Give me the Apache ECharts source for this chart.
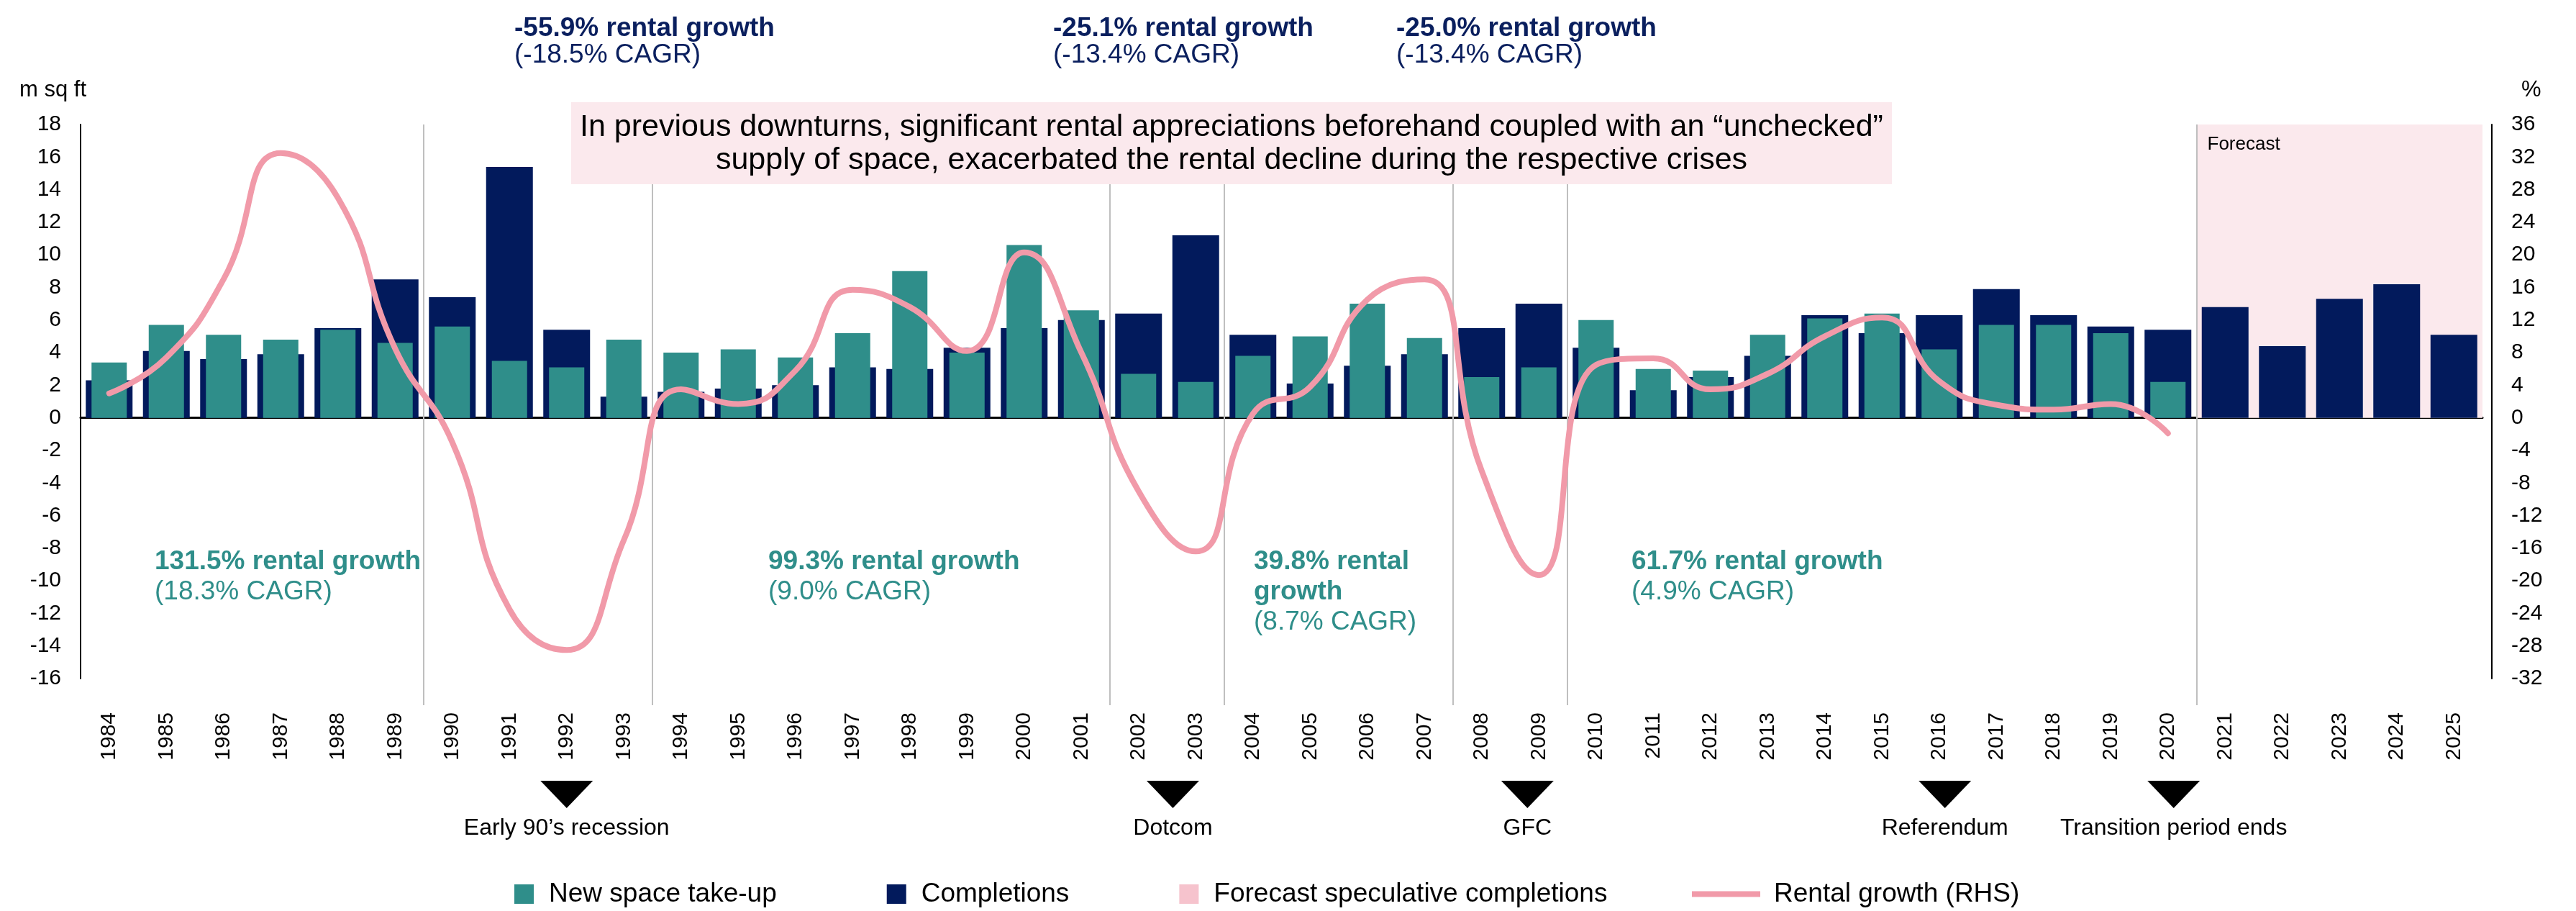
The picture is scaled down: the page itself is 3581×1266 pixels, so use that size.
<!DOCTYPE html>
<html>
<head>
<meta charset="utf-8">
<title>Take-up, completions and rental growth</title>
<script src="https://cdn.jsdelivr.net/npm/echarts@6/dist/echarts.min.js"></script>
<style>
  html, body { margin: 0; padding: 0; background: #fff; }
  #chart { width: 3581px; height: 1266px; }
</style>
</head>
<body>
<div id="chart"></div>
<script>
  // categories
  const years = ['1984','1985','1986','1987','1988','1989','1990','1991','1992','1993',
    '1994','1995','1996','1997','1998','1999','2000','2001','2002','2003',
    '2004','2005','2006','2007','2008','2009','2010','2011','2012','2013',
    '2014','2015','2016','2017','2018','2019','2020','2021','2022','2023',
    '2024','2025'];

  // m sq ft
  const takeUp = [3.4, 5.7, 5.1, 4.8, 5.4, 4.6, 5.6, 3.5, 3.1, 4.8,
    4.0, 4.2, 3.7, 5.2, 9.0, 4.0, 10.6, 6.6, 2.7, 2.2,
    3.8, 5.0, 7.0, 4.9, 2.5, 3.1, 6.0, 3.0, 2.9, 5.1,
    6.1, 6.4, 4.2, 5.7, 5.7, 5.2, 2.2, null, null, null,
    null, null];
  const completions = [2.3, 4.1, 3.6, 3.9, 5.5, 8.5, 7.4, 15.4, 5.4, 1.3,
    1.6, 1.8, 2.0, 3.1, 3.0, 4.3, 5.5, 6.0, 6.4, 11.2,
    5.1, 2.1, 3.2, 3.9, 5.5, 7.0, 4.3, 1.7, 2.5, 3.8,
    6.3, 5.2, 6.3, 7.9, 6.3, 5.6, 5.4, 6.8, 4.4, 7.3,
    8.2, 5.1];
  const speculative = [];

  // % (RHS)
  const rentalGrowth = [3.0, 7.4, 17.0, 32.5, 27.0, 8.5, -3.0, -23.5, -28.5, -15.0,
    3.5, 1.7, 5.8, 15.7, 13.6, 8.2, 20.3, 8.0, -9.0, -16.4,
    0.5, 3.8, 14.5, 17.0, -6.5, -19.3, 6.5, 7.3, 3.5, 5.4,
    10.0, 12.3, 4.5, 1.6, 1.0, 1.7, -1.9, null, null, null,
    null, null];

  // ticks
  const leftMin = -16, leftMax = 18, leftStep = 2;
  const rightMin = -32, rightMax = 36, rightStep = 4;

  // period dividers (first year after each line) and forecast start
  const dividerYears = ['1990', '1994', '2002', '2004', '2008', '2010', '2021'];
  const forecastStart = '2021';

  // crisis markers
  const eventNames = ['Early 90’s recession', 'Dotcom', 'GFC', 'Referendum', 'Transition period ends'];
  const eventYears = [1992, 2002.6, 2008.8, 2016.1, 2020.1];

  const FONT = '"Liberation Sans", Arial, sans-serif';
  const TEAL = '#2f8e8a';
  const NAVY = '#021a5c';
  const PINK = '#f19aa9';
  const PINK_AREA = '#fbe9ed';
  const PINK_LEGEND = '#f6c3cd';

  const nYears = years.length;
  const idx = y => years.indexOf(y);

  const chart = echarts.init(document.getElementById('chart'));
  chart.setOption({
    animation: false,
    backgroundColor: '#fff',
    textStyle: { fontFamily: FONT },
    grid: [
      { left: 112, top: 173, width: 3339, height: 770 },   // 主图
      { left: 112, top: 173, width: 3339, height: 807 },   // 分隔线
      { left: 112, top: 1085, width: 3339, height: 38 }    // 事件
    ],
    legend: [
      {
        data: [
          { name: 'New space take-up', icon: 'rect' },
          { name: 'Completions', icon: 'rect' },
          { name: 'Forecast speculative completions', icon: 'rect' }
        ],
        left: 715, top: 1224,
        itemWidth: 27, itemHeight: 27, itemGap: 153,
        padding: 0,
        selectedMode: false,
        textStyle: { fontSize: 37, color: '#000', fontFamily: FONT, padding: [0, 0, 0, 16] }
      },
      {
        data: [{ name: 'Rental growth (RHS)', icon: 'rect' }],
        left: 2352, top: 1224,
        itemWidth: 95, itemHeight: 8,
        padding: 0,
        selectedMode: false,
        textStyle: { fontSize: 37, color: '#000', fontFamily: FONT, padding: [0, 0, 0, 14] }
      }
    ],
    xAxis: [
      {
        type: 'category', gridIndex: 0, data: years, position: 'bottom',
        axisLine: { show: false }, axisTick: { show: false },
        axisLabel: { rotate: 90, margin: 47, fontSize: 30, color: '#000', interval: 0 }
      },
      {
        type: 'category', gridIndex: 0, data: years,
        axisLine: { onZero: true, onZeroAxisIndex: 0, lineStyle: { color: '#000', width: 3 } },
        axisTick: { show: false }, axisLabel: { show: false }
      },
      { type: 'value', gridIndex: 0, min: 0, max: nYears, show: false },
      { type: 'value', gridIndex: 1, min: 0, max: nYears, show: false },
      { type: 'value', gridIndex: 2, min: 0, max: nYears, show: false }
    ],
    yAxis: [
      {
        type: 'value', gridIndex: 0, min: leftMin, max: leftMax, interval: leftStep,
        axisLine: { show: true, onZero: false, lineStyle: { color: '#000', width: 2 } },
        axisTick: { show: false }, splitLine: { show: false },
        axisLabel: { fontSize: 30, color: '#000', margin: 27 }
      },
      {
        type: 'value', gridIndex: 0, position: 'right', offset: 13,
        min: rightMin, max: rightMax, interval: rightStep,
        axisLine: { show: true, onZero: false, lineStyle: { color: '#000', width: 2 } },
        axisTick: { show: false }, splitLine: { show: false },
        axisLabel: { fontSize: 30, color: '#000', margin: 27 }
      },
      { type: 'value', gridIndex: 1, min: 0, max: 1, show: false },
      { type: 'value', gridIndex: 2, min: 0, max: 1, show: false }
    ],
    series: [
      {
        name: 'Completions', type: 'bar', xAxisIndex: 0, yAxisIndex: 0,
        barWidth: 65, itemStyle: { color: NAVY }, data: completions, z: 3
      },
      {
        name: 'New space take-up', type: 'bar', xAxisIndex: 1, yAxisIndex: 0,
        barWidth: 49, itemStyle: { color: TEAL }, data: takeUp, z: 4
      },
      {
        name: 'Forecast speculative completions', type: 'line', xAxisIndex: 2, yAxisIndex: 0,
        color: PINK_LEGEND, itemStyle: { color: PINK_LEGEND }, data: speculative, z: 1,
        markArea: {
          silent: true,
          itemStyle: { color: PINK_AREA },
          label: { show: true, position: 'insideTopLeft', distance: 15, fontSize: 26, color: '#000' },
          data: [[
            { name: 'Forecast', xAxis: idx(forecastStart), yAxis: leftMax },
            { xAxis: nYears, yAxis: 0 }
          ]]
        }
      },
      {
        name: 'Rental growth (RHS)', type: 'line', xAxisIndex: 0, yAxisIndex: 1,
        smooth: 0.5, symbol: 'none', color: PINK,
        lineStyle: { color: PINK, width: 8, cap: 'round' },
        data: rentalGrowth, z: 6
      },
      {
        name: 'dividers', type: 'line', xAxisIndex: 3, yAxisIndex: 2, data: [], z: 0,
        markLine: {
          silent: true, symbol: 'none', animation: false,
          label: { show: false },
          lineStyle: { color: '#bfbfbf', width: 2, type: 'solid' },
          data: dividerYears.map(y => ({ xAxis: idx(y) }))
        }
      },
      {
        name: 'events', type: 'scatter', xAxisIndex: 4, yAxisIndex: 3,
        symbol: 'triangle', symbolRotate: 180, symbolSize: [73, 38],
        itemStyle: { color: '#000', opacity: 1 },
        label: { show: true, position: 'bottom', distance: 12, formatter: '{b}', fontSize: 32, color: '#000' },
        data: eventNames.map((n, i) => ({ name: n, value: [eventYears[i] - +years[0] + 0.5, 0.5] }))
      }
    ],
    graphic: [
      { type: 'text', x: 27, y: 125, style: { text: 'm sq ft', fontSize: 31, fontFamily: FONT, fill: '#000', verticalAlign: 'middle' } },
      { type: 'text', x: 3505, y: 125, style: { text: '%', fontSize: 31, fontFamily: FONT, fill: '#000', verticalAlign: 'middle' } },
      { type: 'rect', shape: { x: 794, y: 142, width: 1836, height: 114 }, style: { fill: PINK_AREA }, z: 10 },
      {
        type: 'text', x: 1712, y: 200, z: 11,
        style: {
          text: 'In previous downturns, significant rental appreciations beforehand coupled with an “unchecked”\nsupply of space, exacerbated the rental decline during the respective crises',
          fontSize: 43, fontFamily: FONT, fill: '#000', align: 'center', verticalAlign: 'middle', lineHeight: 46
        }
      },
      // 上方：下跌区间
      ...[
        [715, '-55.9% rental growth', '(-18.5% CAGR)'],
        [1464, '-25.1% rental growth', '(-13.4% CAGR)'],
        [1941, '-25.0% rental growth', '(-13.4% CAGR)']
      ].map(a => ({
        type: 'text', x: a[0], y: 21, z: 11,
        style: {
          text: '{b|' + a[1] + '}\n{n|' + a[2] + '}',
          fontSize: 37, fontFamily: FONT, fill: '#0a1f5e', lineHeight: 37,
          rich: { b: { fontWeight: 'bold', fontSize: 37, lineHeight: 37 }, n: { fontSize: 37, lineHeight: 37 } }
        }
      })),
      // 下方：上涨区间
      ...[
        [215, ['131.5% rental growth'], '(18.3% CAGR)'],
        [1068, ['99.3% rental growth'], '(9.0% CAGR)'],
        [1743, ['39.8% rental', 'growth'], '(8.7% CAGR)'],
        [2268, ['61.7% rental growth'], '(4.9% CAGR)']
      ].map(a => ({
        type: 'text', x: a[0], y: 760, z: 11,
        style: {
          text: a[1].map(s => '{b|' + s + '}').join('\n') + '\n{n|' + a[2] + '}',
          fontSize: 37, fontFamily: FONT, fill: TEAL, lineHeight: 42,
          rich: { b: { fontWeight: 'bold', fontSize: 37, lineHeight: 42 }, n: { fontSize: 37, lineHeight: 42 } }
        }
      }))
    ]
  });
</script>
</body>
</html>
